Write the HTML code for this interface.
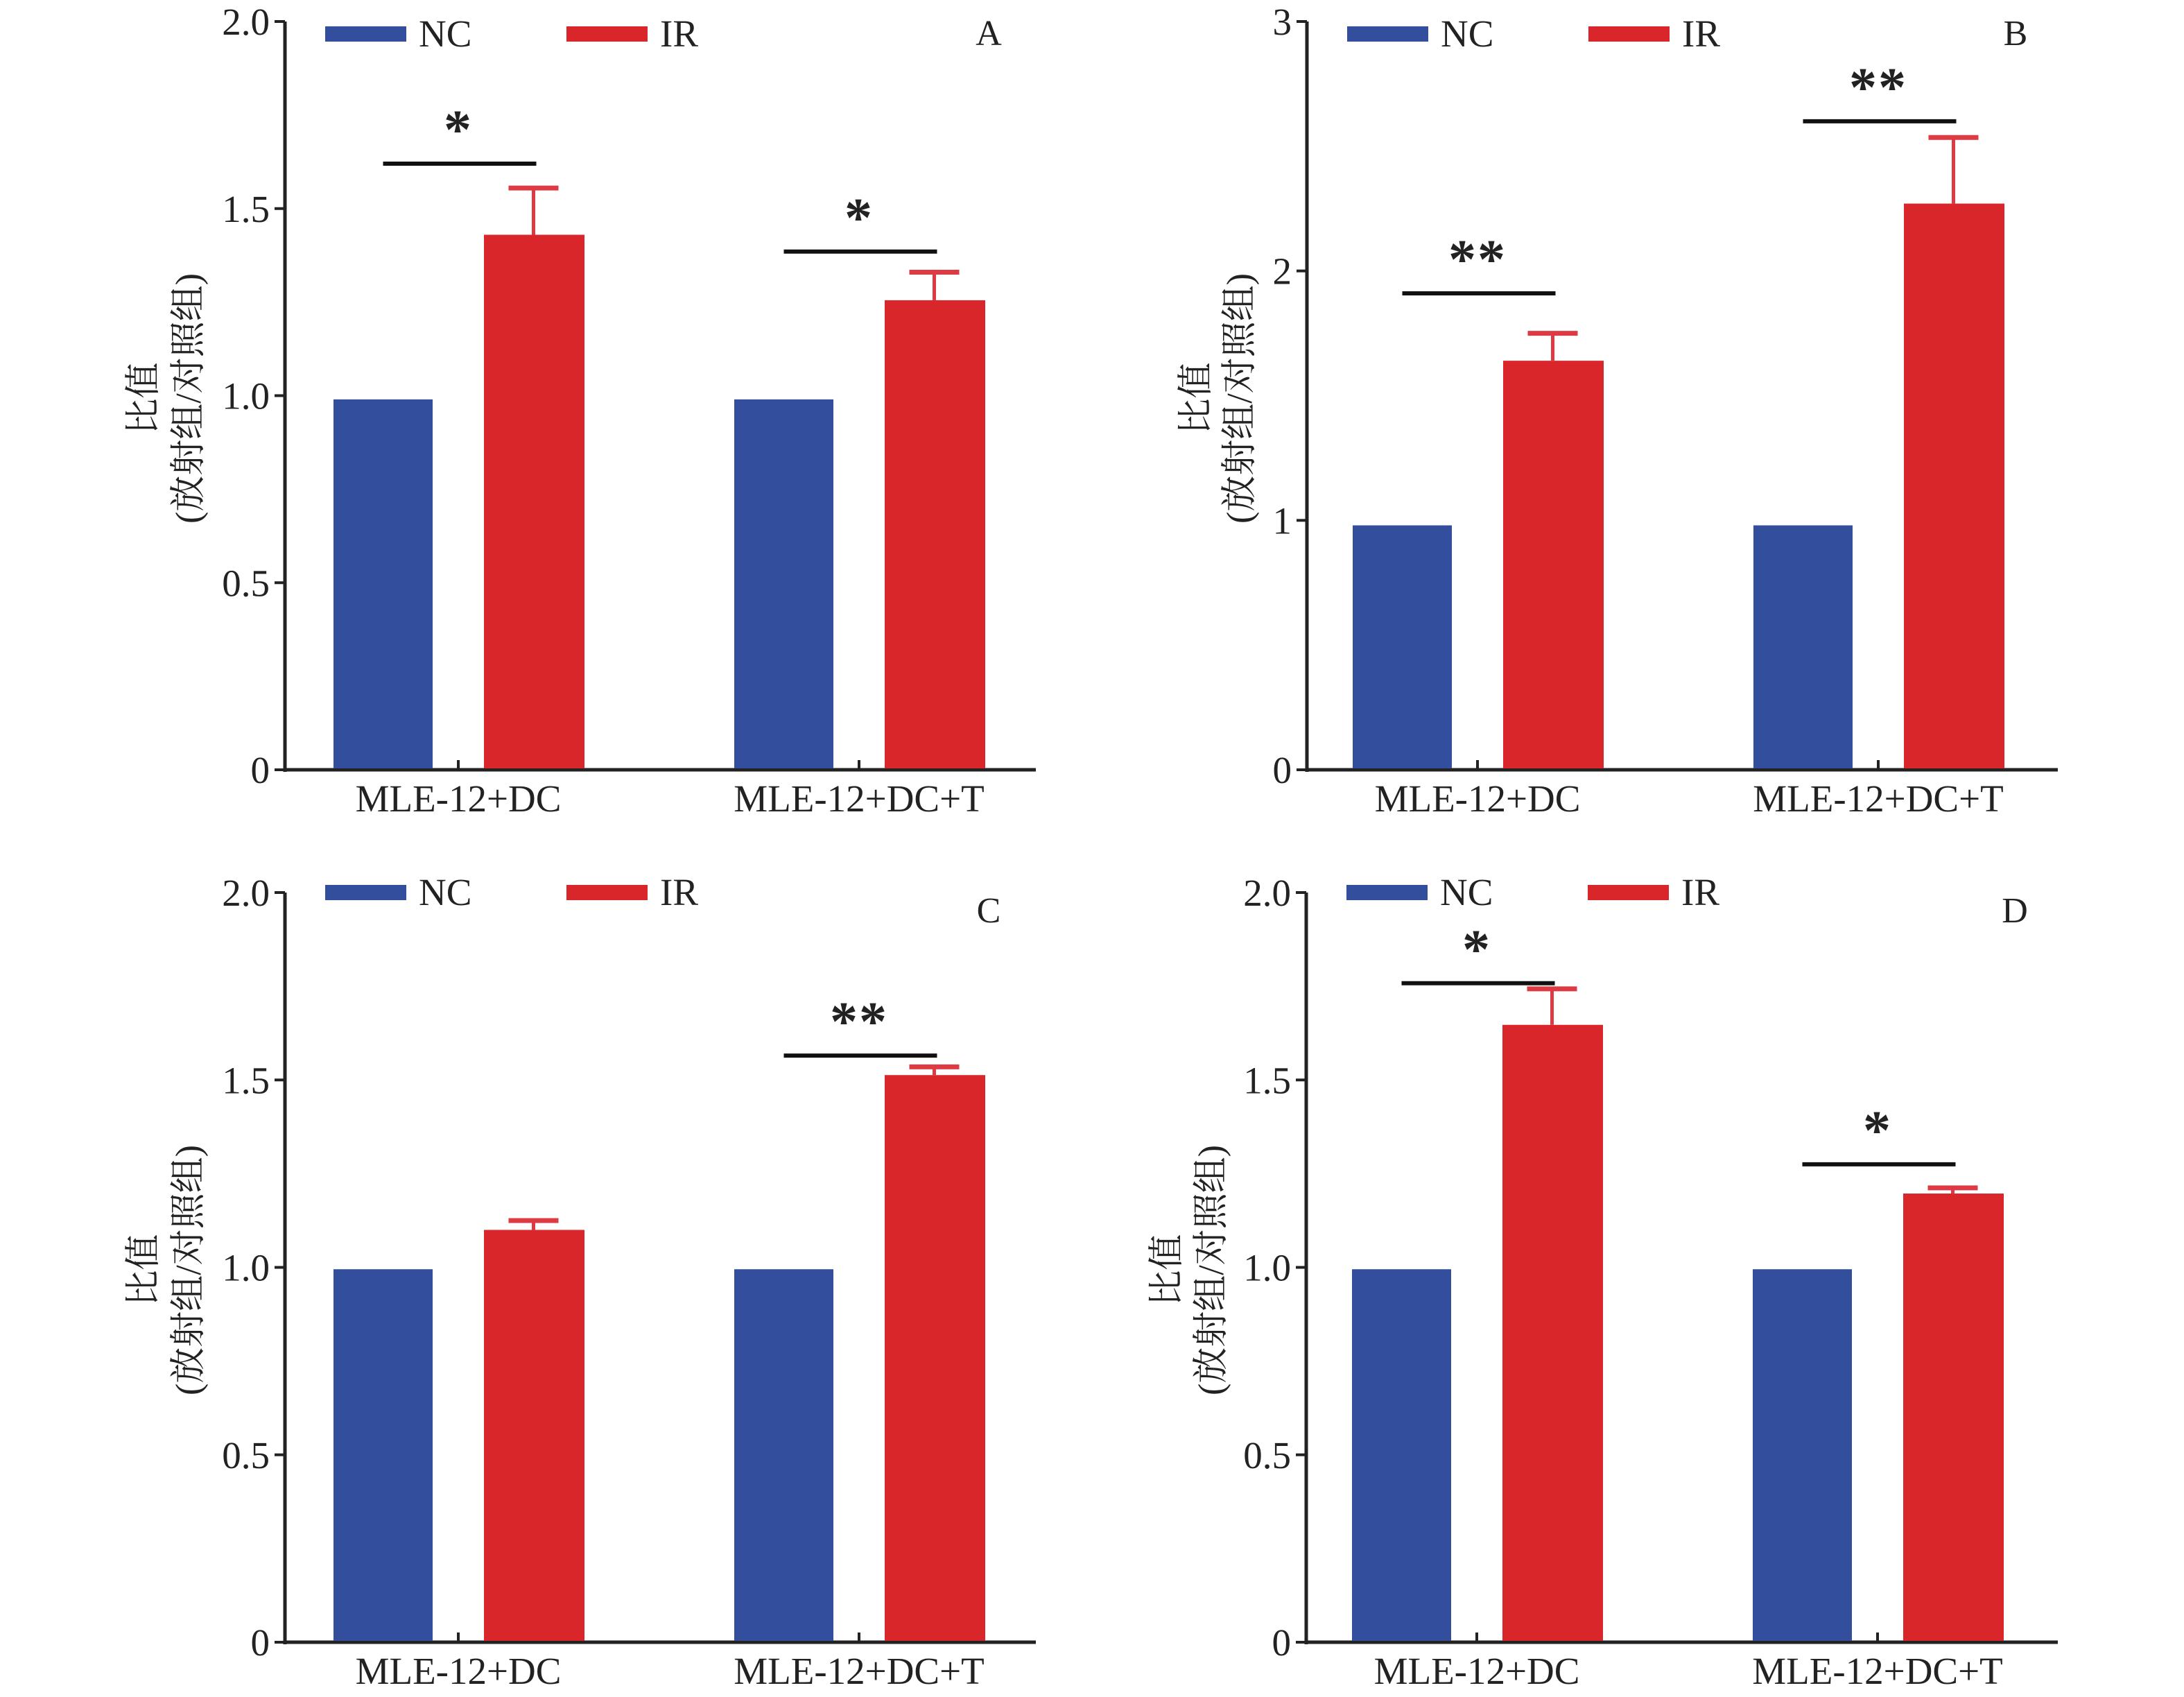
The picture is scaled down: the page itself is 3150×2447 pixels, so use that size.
<!DOCTYPE html>
<html><head><meta charset="utf-8">
<style>
html,body{margin:0;padding:0;background:#fff;}
svg{display:block;}
text{font-family:"Liberation Serif","Noto Serif CJK SC",serif;fill:#222;}
</style></head>
<body>
<svg id="chart" width="3150" height="2447" viewBox="0 0 3150 2447" xmlns="http://www.w3.org/2000/svg"></svg>
<script>
const categories = ["MLE-12+DC", "MLE-12+DC+T"];
const seriesNames = ["NC", "IR"];
const panelLetters = ["A", "B", "C", "D"];
const ncValues = [[0.99, 0.99], [0.98, 0.98], [0.995, 0.995], [0.995, 0.995]];
const irValues = [[1.43, 1.255], [1.64, 2.27], [1.10, 1.513], [1.647, 1.197]];
const irErrTop = [[1.555, 1.33], [1.75, 2.535], [1.125, 1.535], [1.743, 1.212]];
const sigLevel = [[1.62, 1.385], [1.91, 2.60], [null, 1.565], [1.758, 1.275]];
const sigMarks = [["*", "*"], ["**", "**"], ["", "**"], ["*", "*"]];
const yMax = [2, 3, 2, 2];
const yTickLabels = [["0","0.5","1.0","1.5","2.0"], ["0","1","2","3"], ["0","0.5","1.0","1.5","2.0"], ["0","0.5","1.0","1.5","2.0"]];
const yTickValues = [[0,0.5,1,1.5,2], [0,1,2,3], [0,0.5,1,1.5,2], [0,0.5,1,1.5,2]];

const NS = "http://www.w3.org/2000/svg";
const svg = document.getElementById('chart');
const BLUE = "#324e9c", RED = "#d9262b";

const layout = [
  {L:411, T:31, B:1110, R:1494, legY:38, labX1:212, labX2:277, gx0:250},
  {L:1885, T:31, B:1110, R:2968, legY:38, labX1:1730, labX2:1793, gx0:246},
  {L:411, T:1287, B:2368, R:1494, legY:1276, labX1:212, labX2:277, gx0:250},
  {L:1884, T:1287, B:2368, R:2968, legY:1276, labX1:1688, labX2:1752, gx0:246}
];
const letterX = [1015, 1022, 1015, 1022];
const letterY = [65, 65, 1330, 1330];

function mk(tag, attrs, parent){
  const e = document.createElementNS(NS, tag);
  for (const k in attrs) e.setAttribute(k, attrs[k]);
  (parent||svg).appendChild(e);
  return e;
}

layout.forEach((p, i) => {
  const g = mk('g', {});
  
  
  const y = v => p.B - v / yMax[i] * (p.B - p.T);
  const groupX = k => p.L + p.gx0 + k * 578;
  const bw = 143;

  const ya = mk('line', {x1:p.L, y1:p.T, x2:p.L, y2:p.B+3, stroke:'#222', 'stroke-width':5}, g);
  
  
  const xa = mk('line', {x1:p.L-2, y1:p.B, x2:p.R, y2:p.B, stroke:'#222', 'stroke-width':5}, g);
  
  

  yTickValues[i].forEach((v, j) => {
    const ty = y(v);
    const t = mk('line', {x1:p.L-15, y1:ty, x2:p.L, y2:ty, stroke:'#222', 'stroke-width':4}, g);
    
    
    const tl = mk('text', {x:p.L-22, y:ty+19, 'font-size':55, 'text-anchor':'end'}, g);
    tl.textContent = yTickLabels[i][j];
    
    
  });

  const cy = (p.T + p.B) / 2 + 4;
  const yl1 = mk('text', {x:p.labX1, y:cy, 'font-size':52, 'text-anchor':'middle', transform:`rotate(-90 ${p.labX1} ${cy})`, 'dominant-baseline':'middle'}, g);
  yl1.textContent = '比值';
  
  
  const yl2 = mk('text', {x:p.labX2, y:cy, 'font-size':52, 'text-anchor':'middle', transform:`rotate(-90 ${p.labX2} ${cy})`, 'dominant-baseline':'middle'}, g);
  yl2.textContent = '(放射组/对照组)';
  
  

  categories.forEach((c, k) => {
    const gx = groupX(k);
    const xt = mk('line', {x1:gx, y1:p.B, x2:gx, y2:p.B-14, stroke:'#222', 'stroke-width':4}, g);
    
    
    const xl = mk('text', {x:gx, y:p.B+60, 'font-size':55, 'text-anchor':'middle'}, g);
    xl.textContent = c;
    
    

    const ncx = gx - 108.5, irx = gx + 108.5;
    const b1 = mk('rect', {x:ncx-bw/2, y:y(ncValues[i][k]), width:bw, height:p.B - y(ncValues[i][k]) - 2, fill:BLUE}, g);
    
    
    const b2 = mk('rect', {x:irx-bw/2, y:y(irValues[i][k]), width:bw+2, height:p.B - y(irValues[i][k]) - 2, fill:RED}, g);
    
    
    const ev = mk('line', {x1:irx, y1:y(irValues[i][k]), x2:irx, y2:y(irErrTop[i][k]), stroke:'#dd3a44', 'stroke-width':5}, g);
    
    
    const ec = mk('line', {x1:irx-36, y1:y(irErrTop[i][k]), x2:irx+36, y2:y(irErrTop[i][k]), stroke:'#dd3a44', 'stroke-width':7}, g);
    
    

    if (sigLevel[i][k] !== null) {
      const sy = y(sigLevel[i][k]);
      const sl = mk('line', {x1:ncx, y1:sy, x2:irx+4, y2:sy, stroke:'#111', 'stroke-width':6}, g);
      
      
      const st = mk('text', {x:gx, y:sy-22, 'font-size':80, 'font-weight':'bold', 'text-anchor':'middle', 'font-family':'"Liberation Sans",sans-serif', 'letter-spacing':'2'}, g);
      st.textContent = sigMarks[i][k];
      
      
    }
  });

  const colors = [BLUE, RED];
  seriesNames.forEach((s, j) => {
    const lx = p.L + 58 + j * 348;
    const lr = mk('rect', {x:lx, y:p.legY, width:117, height:22, fill:colors[j]}, g);
    
    
    const lt = mk('text', {x:lx + 135, y:p.legY + 29, 'font-size':55}, g);
    lt.textContent = s;
    
    
  });

  const pl = mk('text', {x:p.L + letterX[i], y:letterY[i], 'font-size':52, 'text-anchor':'middle'}, g);
  pl.textContent = panelLetters[i];
  
  
});
</script>
</body></html>
